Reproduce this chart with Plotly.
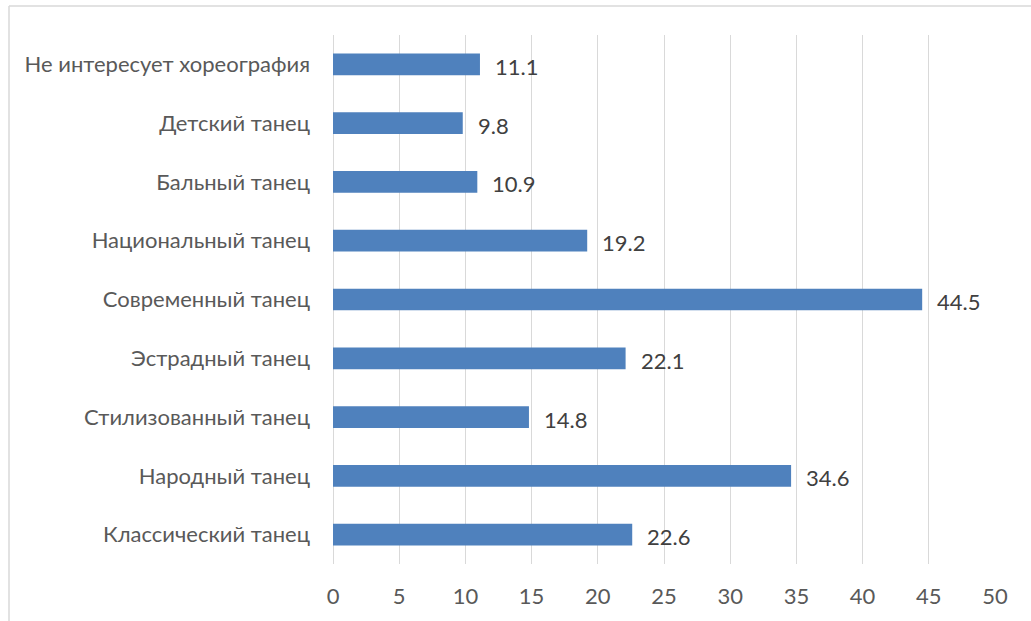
import plotly.graph_objects as go

categories = [
    "Классический танец",
    "Народный танец",
    "Стилизованный танец",
    "Эстрадный танец",
    "Современный танец",
    "Национальный танец",
    "Бальный танец",
    "Детский танец",
    "Не интересует хореография",
]
values = [22.6, 34.6, 14.8, 22.1, 44.5, 19.2, 10.9, 9.8, 11.1]
tick_values = [0, 5, 10, 15, 20, 25, 30, 35, 40, 45, 50]

FONT = "Lato, Open Sans, sans-serif"
SIZE = 22

fig = go.Figure(
    go.Bar(
        x=values,
        y=categories,
        orientation="h",
        marker=dict(color="#4f81bd", line=dict(width=0)),
        width=0.37,
        hoverinfo="x+y",
    )
)

# value labels to the right of each bar
for cat, v in zip(categories, values):
    fig.add_annotation(
        x=v, y=cat, text=f"{v:.1f}", showarrow=False,
        xanchor="left", yanchor="middle", xshift=13, yshift=-2,
        font=dict(family=FONT, size=SIZE, color="#404040"),
    )

fig.update_layout(
    width=1031,
    height=621,
    margin=dict(l=333, r=36, t=35, b=57),
    paper_bgcolor="white",
    plot_bgcolor="white",
    showlegend=False,
    font=dict(family=FONT, color="#595959"),
    xaxis=dict(
        range=[0, 50],
        tickvals=tick_values,
        showgrid=True,
        gridcolor="#d9d9d9",
        gridwidth=1.3,
        zeroline=True,
        zerolinecolor="#d9d9d9",
        zerolinewidth=1.3,
        tickfont=dict(family=FONT, size=SIZE, color="#595959"),
        ticks="",
        ticklabelstandoff=17,
    ),
    yaxis=dict(
        showgrid=False,
        tickfont=dict(family=FONT, size=SIZE, color="#595959"),
        ticks="",
        ticklabelstandoff=22,
    ),
    shapes=[
        # light frame around the chart area (top and left edges)
        dict(type="line", xref="paper", yref="paper",
             x0=(9 - 333) / 662, x1=1.1, y0=(564 - 6) / 529, y1=(564 - 6) / 529,
             line=dict(color="#d9d9d9", width=1.5)),
        dict(type="line", xref="paper", yref="paper",
             x0=(9 - 333) / 662, x1=(9 - 333) / 662, y0=(564 - 6) / 529, y1=-0.2,
             line=dict(color="#d9d9d9", width=1.5)),
    ],
)

fig.write_html("out.html")
